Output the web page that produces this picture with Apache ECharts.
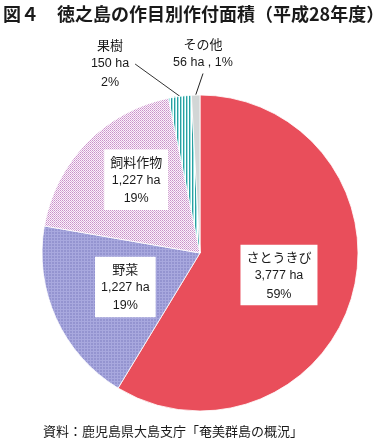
<!DOCTYPE html>
<html><head><meta charset="utf-8">
<script src="https://cdn.jsdelivr.net/npm/echarts@6/dist/echarts.min.js"></script>
<style>html,body{margin:0;padding:0;background:#fff}#c{width:392px;height:448px}</style>
</head><body><div id="c"></div>
<script>
const categories = ['さとうきび', '野菜', '飼料作物', '果樹', 'その他'];
const areas = [3777, 1227, 1227, 150, 56];
const titleText = '図４　徳之島の作目別作付面積（平成28年度）';
const sourceText = '資料：鹿児島県大島支庁「奄美群島の概況」';

function pattern(w, h, draw) {
  const c = document.createElement('canvas');
  c.width = w; c.height = h;
  const g = c.getContext('2d');
  draw(g);
  return { image: c, repeat: 'repeat' };
}
function px(g, x, y, col) { g.fillStyle = col; g.fillRect(x, y, 1, 1); }

const fills = [
  '#e94e5b',
  pattern(3, 3, g => {
    g.fillStyle = '#9494d0'; g.fillRect(0, 0, 3, 3);
    for (let i = 0; i < 3; i++) { px(g, i, 0, '#a8a8de'); px(g, 0, i, '#a8a8de'); }
  }),
  pattern(2, 2, g => {
    g.fillStyle = '#fbf2fb'; g.fillRect(0, 0, 2, 2);
    px(g, 0, 0, '#c992c9'); px(g, 1, 1, '#d9aed9');
  }),
  pattern(3, 3, g => {
    g.fillStyle = '#ffffff'; g.fillRect(0, 0, 3, 3);
    g.fillStyle = '#2a9fa0'; g.fillRect(0, 0, 1, 3);
    g.fillStyle = '#9fe2e2'; g.fillRect(1, 0, 1, 3);
  }),
  '#d2d6d6'
];

const fmtNum = v => String(v).replace(/\B(?=(\d{3})+(?!\d))/g, ',');

const chart = echarts.init(document.getElementById('c'), null, { renderer: 'canvas' });
const data = categories.map((n, i) => {
  const item = { name: n, value: areas[i], itemStyle: { color: fills[i] } };
  if (i === 3) {
    item.label = { position: 'outside', backgroundColor: 'transparent', padding: [0, 6],
      formatter: p => '{n|' + p.name + '}\n{v|' + fmtNum(p.value) + ' ha}\n{v|' + p.percent + '%}' };
    item.labelLine = { show: true, length: 10, length2: 0, lineStyle: { color: '#333', width: 1 } };
  } else if (i === 4) {
    item.label = { position: 'outside', backgroundColor: 'transparent', padding: [0, 0, 2, 0],
      formatter: p => '{n|' + p.name + '}\n{v|' + fmtNum(p.value) + ' ha , ' + p.percent + '%}' };
    item.labelLine = { show: true, length: 10, length2: 0, lineStyle: { color: '#222', width: 1 } };
  } else if (i === 2) {
    item.label = { offset: [-5, -16] };
  }
  return item;
});

chart.setOption({
  animation: false,
  title: {
    text: titleText, left: 3, top: 5, padding: 0,
    textStyle: { fontSize: 18, fontWeight: 'bold', color: '#1a1a1a', fontFamily: 'Noto Sans CJK JP' }
  },
  graphic: [{
    type: 'text', left: 43, top: 425,
    style: { text: sourceText, fontSize: 13, fill: '#1a1a1a', fontFamily: 'Noto Sans CJK JP' }
  }],
  series: [{
    type: 'pie',
    center: [200, 253],
    radius: 158,
    startAngle: 90,
    clockwise: true,
    percentPrecision: 0,
    avoidLabelOverlap: false,
    itemStyle: { borderColor: '#ffffff', borderWidth: 0.8 },
    label: {
      show: true, position: 'inside', color: '#1a1a1a',
      backgroundColor: '#ffffff', padding: [3, 6, 2, 6],
      formatter: p => '{n|' + p.name + '}\n{v|' + fmtNum(p.value) + ' ha}\n{v|' + p.percent + '%}',
      rich: {
        n: { fontSize: 13, lineHeight: 18.5, fontFamily: 'Noto Sans CJK JP', color: '#1a1a1a', align: 'center' },
        v: { fontSize: 12.5, lineHeight: 18.5, fontFamily: 'Liberation Sans', color: '#1a1a1a', align: 'center' }
      }
    },
    labelLine: { show: false },
    labelLayout: function (p) {
      if (p.dataIndex === 3) return { x: 110, y: 64, align: 'center', verticalAlign: 'middle' };
      if (p.dataIndex === 4) return { x: 203, y: 54, align: 'center', verticalAlign: 'middle' };
      return {};
    },
    data: data
  }]
});
</script></body></html>
